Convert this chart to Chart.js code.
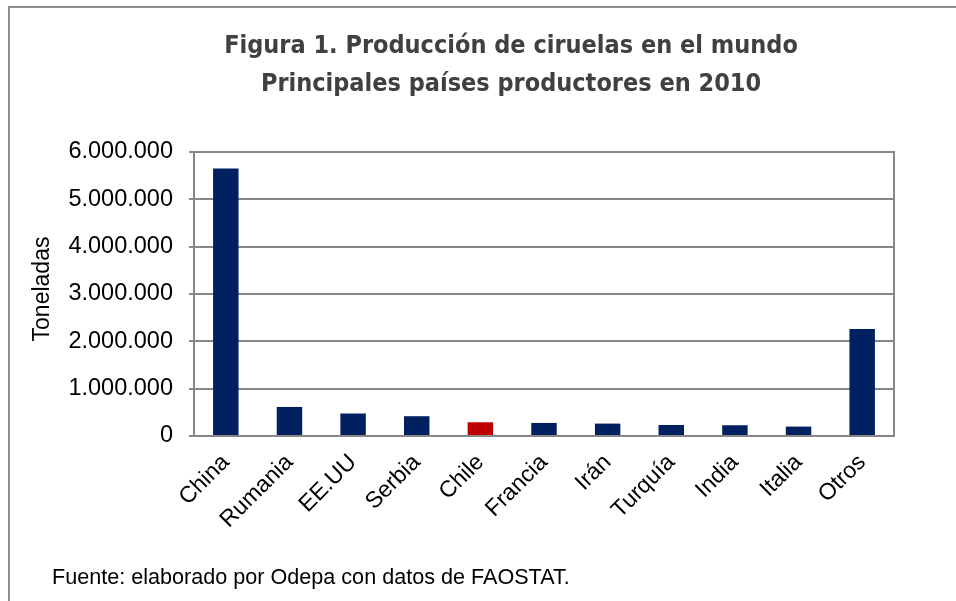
<!DOCTYPE html>
<html>
<head>
<meta charset="utf-8">
<script src="https://cdn.jsdelivr.net/npm/chart.js@4"></script>
<style>
  html, body { margin: 0; padding: 0; background: #fff; }
  #wrap { width: 956px; height: 601px; position: relative; }
</style>
</head>
<body>
<div id="wrap"><canvas id="chart"></canvas></div>
<script>
// Data
const countries = ['China', 'Rumania', 'EE.UU', 'Serbia', 'Chile', 'Francia', 'Irán', 'Turquía', 'India', 'Italia', 'Otros'];
const tonnes = [5650000, 614000, 475000, 418000, 290000, 276000, 262000, 233000, 227000, 199000, 2260000];
const titleLines = ['Figura 1. Producción de ciruelas en el mundo', 'Principales países productores en 2010'];
const axisTitle = 'Toneladas';
const sourceNote = 'Fuente: elaborado por Odepa con datos de FAOSTAT.';

const colors = {
    bar: '#002060',
    highlight: '#C00000',
    grid: '#878787',
    text: '#000000',
    title: '#404040',
    frame: '#8f8f8f'
};

const barColors = countries.map(c => c === 'Chile' ? colors.highlight : colors.bar);

// dotted thousands, e.g. 6.000.000
function fmt(v) {
    return String(Math.round(v)).replace(/\B(?=(\d{3})+(?!\d))/g, '.');
}

const decorations = {
    id: 'decorations',
    beforeDraw(chart) {
        const ctx = chart.ctx;
        ctx.save();
        // outer frame (continues past the right and bottom edges)
        ctx.strokeStyle = colors.frame;
        ctx.lineWidth = 2;
        ctx.beginPath();
        ctx.moveTo(9, 601);
        ctx.lineTo(9, 7);
        ctx.lineTo(956, 7);
        ctx.stroke();
        ctx.restore();
    },
    afterDraw(chart) {
        const ctx = chart.ctx;
        const area = chart.chartArea;
        ctx.save();
        // right edge of the plot box
        ctx.strokeStyle = colors.grid;
        ctx.lineWidth = 2;
        ctx.beginPath();
        ctx.moveTo(area.right, area.top - 1);
        ctx.lineTo(area.right, area.bottom + 1);
        ctx.stroke();

        ctx.fillStyle = colors.title;
        ctx.font = 'bold 25px "DejaVu Sans Condensed", "DejaVu Sans", sans-serif';
        ctx.textAlign = 'center';
        ctx.textBaseline = 'middle';
        ctx.fillText(titleLines[0], 511, 46);
        ctx.fillText(titleLines[1], 511, 84);

        ctx.fillStyle = colors.text;
        ctx.font = '23px "Liberation Sans", Arial, sans-serif';
        ctx.translate(43, 289);
        ctx.rotate(-Math.PI / 2);
        ctx.fillText(axisTitle, 0, 0);
        ctx.restore();

        ctx.save();
        ctx.fillStyle = colors.text;
        ctx.font = '21.6px "Liberation Sans", Arial, sans-serif';
        ctx.textAlign = 'left';
        ctx.textBaseline = 'middle';
        ctx.fillText(sourceNote, 52, 578);
        ctx.restore();
    }
};

new Chart(document.getElementById('chart'), {
    type: 'bar',
    data: {
        labels: countries,
        datasets: [{
            data: tonnes,
            backgroundColor: barColors,
            borderWidth: 0,
            barPercentage: 0.4,
            categoryPercentage: 1.0
        }]
    },
    options: {
        responsive: true,
        maintainAspectRatio: false,
        animation: false,
        layout: { padding: { top: 152, right: 62, bottom: 0, left: 0 } },
        plugins: {
            legend: { display: false },
            tooltip: { enabled: false }
        },
        scales: {
            x: {
                grid: { display: false, drawTicks: false },
                border: { color: colors.grid, width: 2 },
                ticks: {
                    color: colors.text,
                    font: { family: 'Liberation Sans', size: 23 },
                    minRotation: 45,
                    maxRotation: 45,
                    padding: 13
                },
                afterFit(scale) { scale.height = 165; }
            },
            y: {
                min: 0,
                max: 6000000,
                grid: { color: colors.grid, lineWidth: 2, tickLength: 5 },
                border: { color: colors.grid, width: 2 },
                ticks: {
                    stepSize: 1000000,
                    color: colors.text,
                    font: { family: 'Liberation Sans', size: 23.5 },
                    padding: 16,
                    callback: v => fmt(v)
                },
                afterFit(scale) { scale.width = 194; }
            }
        }
    },
    plugins: [decorations]
});
</script>
</body>
</html>
